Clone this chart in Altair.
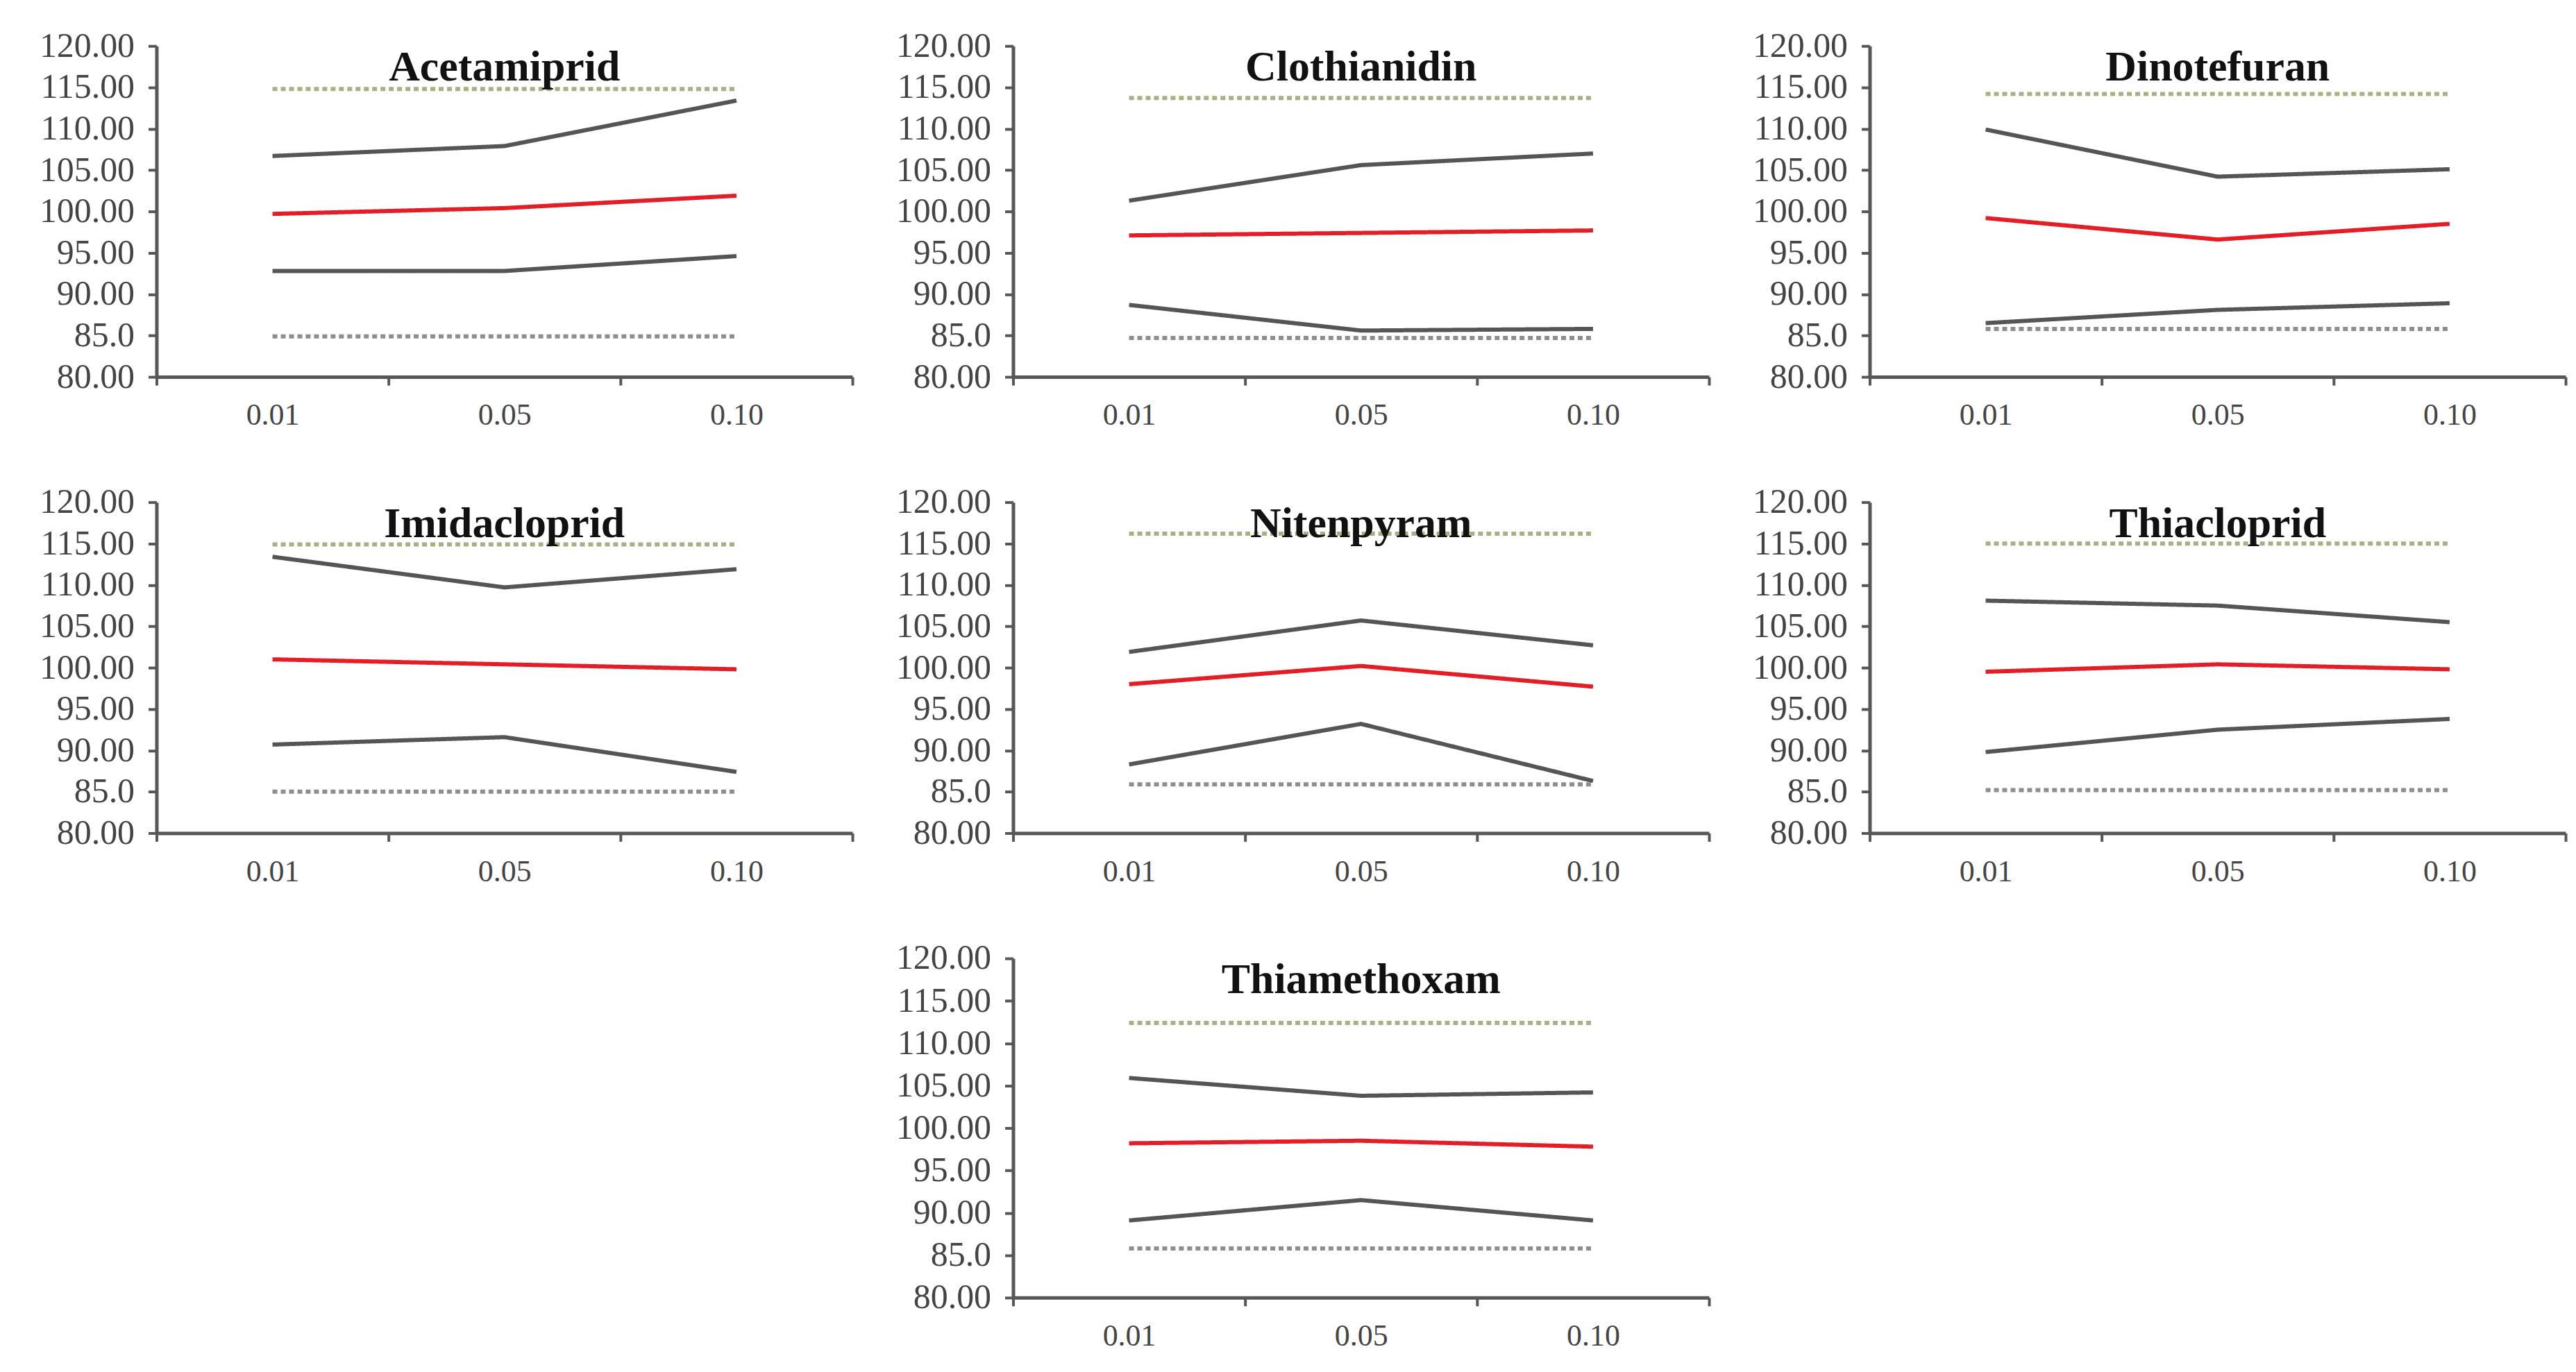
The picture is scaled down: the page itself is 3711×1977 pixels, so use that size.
import altair as alt
import pandas as pd

# ---------------- data ----------------
concentrations = ["0.01", "0.05", "0.10"]
compounds = ["Acetamiprid", "Clothianidin", "Dinotefuran", "Imidacloprid",
             "Nitenpyram", "Thiacloprid", "Thiamethoxam"]

upper_limit = [114.8, 113.7, 114.2, 114.9, 116.2, 115.0, 112.4]
lower_limit = [84.9, 84.7, 85.8, 85.0, 85.9, 85.2, 85.8]

upper_band = [
    [106.7, 107.9, 113.4],
    [101.3, 105.6, 107.0],
    [109.9, 104.2, 105.1],
    [113.4, 109.7, 111.9],
    [101.9, 105.7, 102.7],
    [108.1, 107.5, 105.5],
    [105.9, 103.8, 104.2],
]
mean_recovery = [
    [99.7, 100.4, 101.9],
    [97.1, 97.4, 97.7],
    [99.2, 96.6, 98.5],
    [101.0, 100.4, 99.8],
    [98.0, 100.2, 97.7],
    [99.5, 100.4, 99.8],
    [98.2, 98.5, 97.8],
]
lower_band = [
    [92.8, 92.8, 94.6],
    [88.7, 85.6, 85.8],
    [86.5, 88.1, 88.9],
    [90.7, 91.6, 87.4],
    [88.3, 93.2, 86.3],
    [89.8, 92.5, 93.8],
    [89.1, 91.5, 89.1],
]

y_ticks = [80, 85, 90, 95, 100, 105, 110, 115, 120]
y_tick_labels = ["80.00", "85.0", "90.00", "95.00", "100.00",
                 "105.00", "110.00", "115.00", "120.00"]

series_names = ["ul", "upper", "mean", "lower", "ll"]
series_colors = ["#aab084", "#555555", "#e41e26", "#555555", "#8e8e8e"]
series_dash = [[7, 5], [1, 0], [1, 0], [1, 0], [7, 5]]
series_width = [6, 6, 10, 6, 6]

# ---------------- long table ----------------
rows = []
for i, name in enumerate(compounds):
    for j, c in enumerate(concentrations):
        rows.append(dict(panel=name, conc=c, series="ul", value=upper_limit[i]))
        rows.append(dict(panel=name, conc=c, series="upper", value=upper_band[i][j]))
        rows.append(dict(panel=name, conc=c, series="mean", value=mean_recovery[i][j]))
        rows.append(dict(panel=name, conc=c, series="lower", value=lower_band[i][j]))
        rows.append(dict(panel=name, conc=c, series="ll", value=lower_limit[i]))
df = pd.DataFrame(rows)

label_map = "{" + ",".join(f"'{v}':'{l}'" for v, l in zip(y_ticks, y_tick_labels)) + "}"
label_expr = f"{label_map}[datum.value]"

W, H = 1005, 478
AXIS_COL = "#575757"
FONT = "Liberation Serif"


def panel(name, h=H):
    return (
        alt.Chart(df, title=alt.TitleParams(
            name, offset=-88, anchor="middle", frame="group",
            font=FONT, fontSize=62, fontWeight="bold", color="#111111"))
        .transform_filter(alt.datum.panel == name)
        .mark_line()
        .encode(
            x=alt.X("conc:N", sort=concentrations,
                    scale=alt.Scale(type="band", paddingInner=0, paddingOuter=0),
                    axis=alt.Axis(title=None, labelAngle=0, tickBand="extent",
                                  domainColor=AXIS_COL, domainWidth=5,
                                  tickColor=AXIS_COL, tickWidth=4, tickSize=12,
                                  labelFont=FONT, labelFontSize=44,
                                  labelColor="#444444", labelPadding=22)),
            y=alt.Y("value:Q",
                    scale=alt.Scale(domain=[80, 120], nice=False, zero=False),
                    axis=alt.Axis(title=None, values=y_ticks, labelExpr=label_expr,
                                  grid=False, domainColor=AXIS_COL, domainWidth=5,
                                  tickColor=AXIS_COL, tickWidth=4, tickSize=12,
                                  labelFont=FONT, labelFontSize=50,
                                  labelColor="#444444", labelPadding=20)),
            color=alt.Color("series:N", scale=alt.Scale(domain=series_names, range=series_colors), legend=None),
            strokeDash=alt.StrokeDash("series:N", scale=alt.Scale(domain=series_names, range=series_dash), legend=None),
            strokeWidth=alt.StrokeWidth("series:N", scale=alt.Scale(domain=series_names, range=series_width), legend=None),
            detail="series:N",
        )
        .properties(width=W, height=h)
    )


spacer = (
    alt.Chart(df)
    .mark_point(opacity=0)
    .encode(x=alt.X("conc:N", axis=None), y=alt.Y("value:Q", axis=None))
    .properties(width=W, height=H)
)

panels = [panel(n) for n in compounds[:6]] + [spacer, panel(compounds[6], h=490)]

chart = (
    alt.concat(*panels, columns=3, spacing=alt.RowColnumber(row=78, column=60))
    .properties(padding={"left": 48, "top": 31, "right": 5, "bottom": 5},
                background="white")
    .configure_view(strokeWidth=0, stroke=None)
)

chart.save("out.html", embed_options={"renderer": "svg", "actions": False})
